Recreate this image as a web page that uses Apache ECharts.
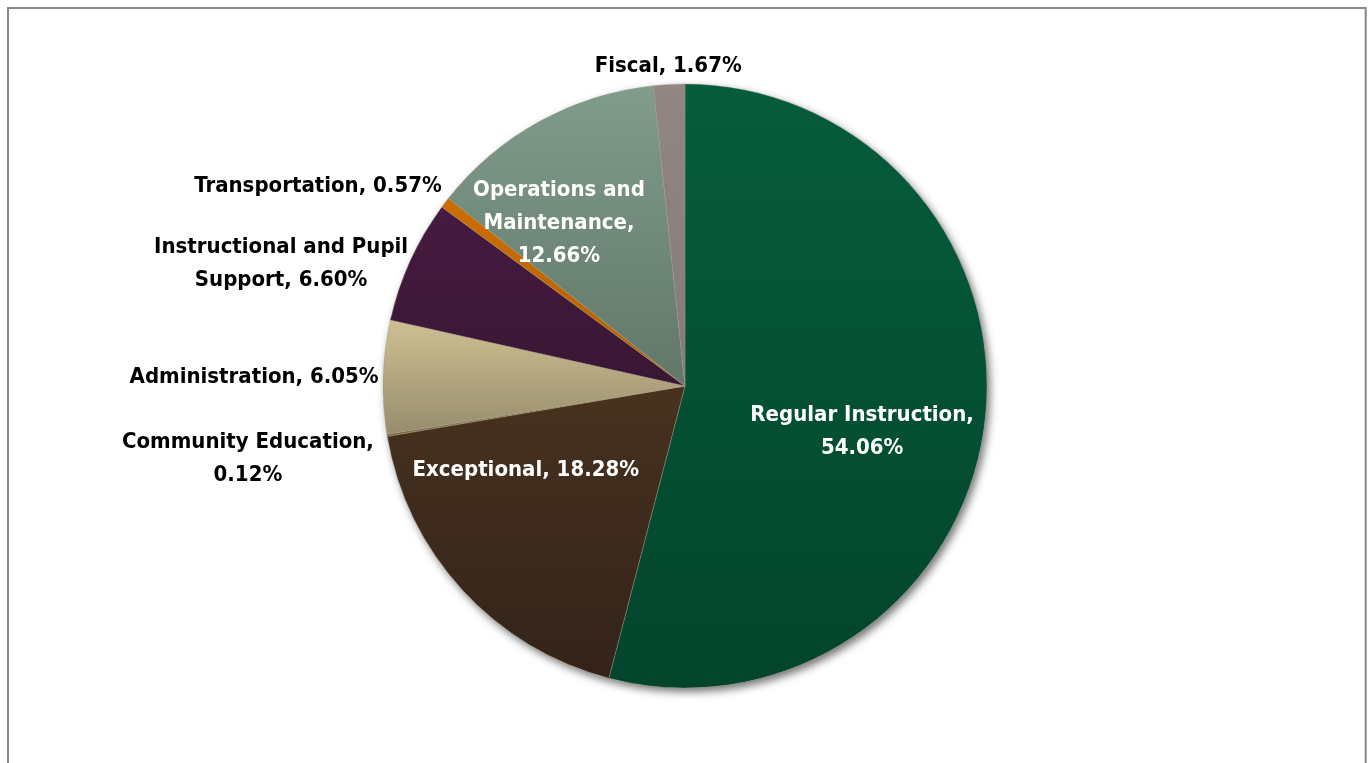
<!DOCTYPE html>
<html>
<head>
<meta charset="utf-8">
<title>Expenditures by Program</title>
<script src="https://cdn.jsdelivr.net/npm/echarts@6/dist/echarts.min.js"></script>
<style>
  html, body { margin: 0; padding: 0; background: #fff; overflow: hidden; }
  #chart { width: 1368px; height: 763px; }
</style>
</head>
<body>
<div id="chart"></div>
<script>
// Spending share by program (percent of total), clockwise from 12 o'clock
const categories = [
  'Regular Instruction',
  'Exceptional',
  'Community Education',
  'Administration',
  'Instructional and Pupil Support',
  'Transportation',
  'Operations and Maintenance',
  'Fiscal'
];
const shares = [54.06, 18.28, 0.12, 6.05, 6.60, 0.57, 12.66, 1.67];

// Slice fills: [top colour, bottom colour] of a vertical gradient
const sliceFills = [
  ['#065c3c', '#03452c'],
  ['#48321f', '#33231a'],
  ['#968453', '#7d6d43'],
  ['#cec092', '#978c6d'],
  ['#461a41', '#391733'],
  ['#cc6e02', '#b45f00'],
  ['#809c8c', '#617769'],
  ['#918683', '#857a76']
];

// Label placement: polar angle (deg, clockwise from top), distance in radii,
// text colour and the words after which the label text wraps
const labelPlacement = [
  { ang: 104.6, dist: 0.606, color: '#fff', breaks: ['Instruction,'] },
  { ang: 242.2, dist: 0.596, color: '#fff', breaks: [] },
  { ang: 260.6, dist: 1.467, color: '#000', breaks: ['Education,'] },
  { ang: 271.1, dist: 1.427, color: '#000', breaks: [] },
  { ang: 286.8, dist: 1.397, color: '#000', breaks: ['Pupil'] },
  { ang: 298.6, dist: 1.384, color: '#000', breaks: [] },
  { ang: 322.2, dist: 0.681, color: '#fff', breaks: ['and', 'Maintenance,'] },
  { ang: 357.0, dist: 1.061, color: '#000', breaks: [] }
];

const CX = 685, CY = 386, R = 302;
const FONT = "'Liberation Sans Narrow', 'Arial Narrow', 'DejaVu Sans Condensed', sans-serif";

function labelText(i) {
  let text = categories[i] + ', ' + shares[i].toFixed(2) + '%';
  labelPlacement[i].breaks.forEach(w => { text = text.replace(w + ' ', w + '\n'); });
  return text;
}

const chart = echarts.init(document.getElementById('chart'), null, { renderer: 'canvas' });

const pieData = categories.map((name, i) => ({
  name,
  value: shares[i],
  itemStyle: {
    color: {
      type: 'linear', x: 0, y: 0, x2: 0, y2: 1,
      colorStops: [
        { offset: 0, color: sliceFills[i][0] },
        { offset: 1, color: sliceFills[i][1] }
      ]
    }
  },
  label: { color: labelPlacement[i].color }
}));

chart.setOption({
  animation: false,
  backgroundColor: '#ffffff',
  graphic: [{
    type: 'rect',
    shape: { x: 8, y: 8, width: 1357.7, height: 820 },
    style: { fill: 'none', stroke: '#878787', lineWidth: 2 },
    silent: true
  }],
  series: [
    {
      // soft drop shadow under the whole disc
      type: 'pie',
      center: [CX, CY],
      radius: R,
      silent: true,
      z: 1,
      label: { show: false },
      labelLine: { show: false },
      data: [{ value: 1, itemStyle: { color: '#ffffff' } }],
      itemStyle: {
        shadowBlur: 9,
        shadowOffsetX: 3,
        shadowOffsetY: 4,
        shadowColor: 'rgba(0,0,0,0.55)'
      }
    },
    {
      type: 'pie',
      center: [CX, CY],
      radius: R,
      startAngle: 90,
      clockwise: true,
      z: 2,
      avoidLabelOverlap: false,
      itemStyle: { borderColor: 'rgba(160,150,130,0.6)', borderWidth: 0.6 },
      label: {
        show: true,
        position: 'inside',
        fontFamily: FONT,
        fontWeight: 'bold',
        fontSize: 22,
        lineHeight: 33,
        align: 'center',
        formatter: p => labelText(p.dataIndex)
      },
      labelLine: { show: false },
      labelLayout: params => {
        const lp = labelPlacement[params.dataIndex];
        const a = lp.ang * Math.PI / 180;
        return {
          x: CX + Math.sin(a) * lp.dist * R,
          y: CY - Math.cos(a) * lp.dist * R,
          align: 'center',
          verticalAlign: 'middle'
        };
      },
      data: pieData
    }
  ]
});
</script>
</body>
</html>
